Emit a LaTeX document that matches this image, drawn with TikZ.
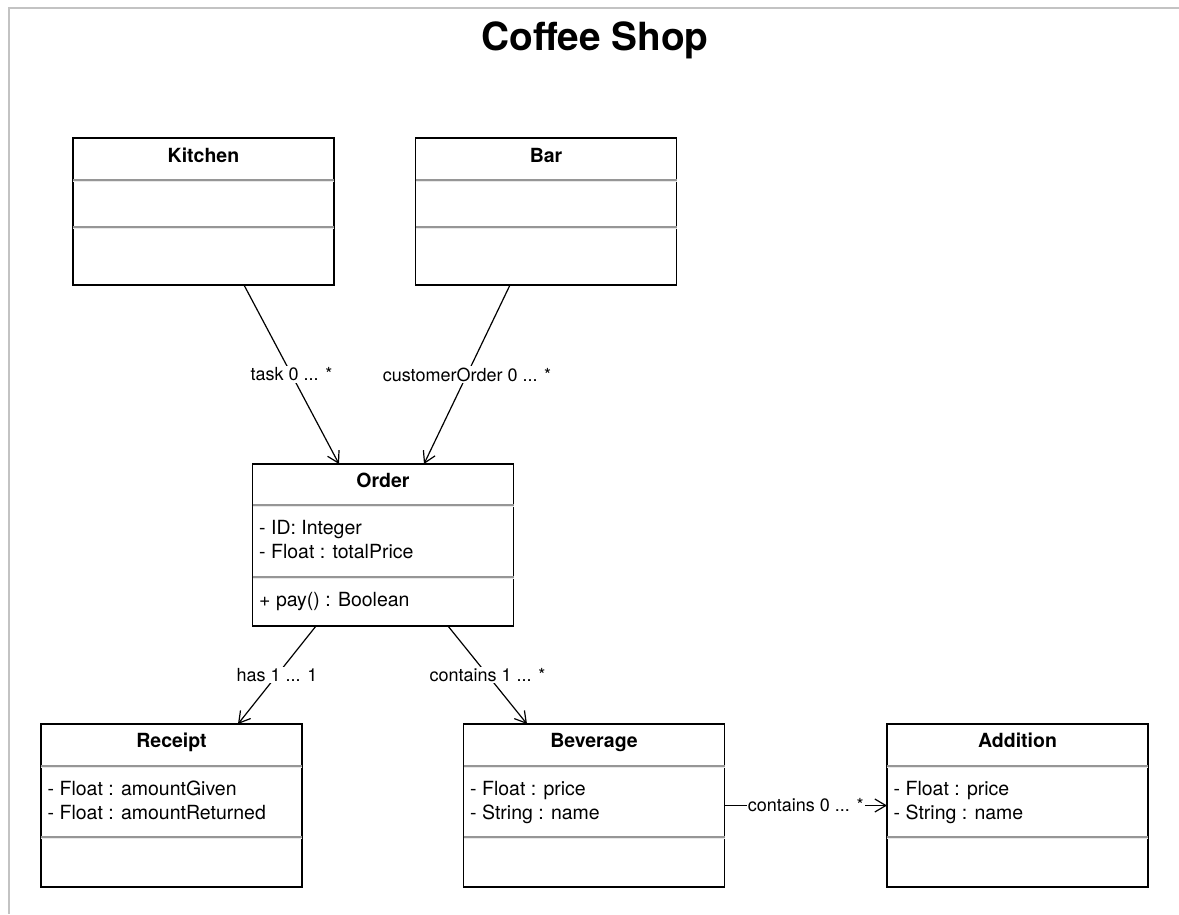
\documentclass[tikz,border=0pt]{standalone}
\usepackage{fontspec}
\setmainfont{TeX Gyre Heros}
\usetikzlibrary{arrows.meta}

\begin{document}
\begin{tikzpicture}[x=1pt,y=-1pt,
  classbox/.style={draw=black, line width=1.6pt, fill=white, minimum width=261pt,
                   inner sep=0pt, outer sep=0pt},
  classname/.style={font=\fontsize{19.5}{23}\selectfont\bfseries, anchor=base, inner sep=0pt},
  attr/.style={font=\fontsize{19.5}{23}\selectfont, anchor=base west, inner sep=0pt},
  sepdark/.style={draw={rgb,255:red,150;green,150;blue,150}, line width=1.4pt},
  seplight/.style={draw={rgb,255:red,232;green,232;blue,232}, line width=1.2pt},
  assoc/.style={line width=1.2pt, -{Straight Barb[length=11pt,width=13pt,line width=1.2pt]}},
  lbl/.style={font=\fontsize{18}{21}\selectfont, fill=white, inner sep=1.5pt},
  frameline/.style={draw={rgb,255:red,195;green,195;blue,195}, line width=2pt}
]
\fill[white] (0,0) rectangle (1179,914);
\useasboundingbox (0,0) rectangle (1179,914);

% diagram frame (top and left edges)
\draw[frameline] (1179,8) -- (9,8) -- (9,914);

% title
\node[font=\fontsize{38.8}{46}\selectfont\bfseries, anchor=base, inner sep=0pt] (title) at (595,50) {Coffee Shop};

% ---------- Kitchen ----------
\node[classbox, minimum height=147pt] (kitchen) at (203.5,211.5) {};
\node[classname] (kitchenN) at ([yshift=-24pt]kitchen.north) {Kitchen};
\draw[sepdark] ([yshift=-42pt]kitchen.north west) -- ([yshift=-42pt]kitchen.north east);
\draw[seplight] ([yshift=-43.5pt]kitchen.north west) -- ([yshift=-43.5pt]kitchen.north east);
\draw[sepdark] ([yshift=-89pt]kitchen.north west) -- ([yshift=-89pt]kitchen.north east);
\draw[seplight] ([yshift=-90.5pt]kitchen.north west) -- ([yshift=-90.5pt]kitchen.north east);

% ---------- Bar ----------
\node[classbox, minimum height=147pt] (bar) at (546,211.5) {};
\node[classname] (barN) at ([yshift=-24pt]bar.north) {Bar};
\draw[sepdark] ([yshift=-42pt]bar.north west) -- ([yshift=-42pt]bar.north east);
\draw[seplight] ([yshift=-43.5pt]bar.north west) -- ([yshift=-43.5pt]bar.north east);
\draw[sepdark] ([yshift=-89pt]bar.north west) -- ([yshift=-89pt]bar.north east);
\draw[seplight] ([yshift=-90.5pt]bar.north west) -- ([yshift=-90.5pt]bar.north east);

% ---------- Order ----------
\node[classbox, minimum height=162pt] (order) at (383,545) {};
\node[classname] (orderN) at ([yshift=-23pt]order.north) {Order};
\draw[sepdark] ([yshift=-41pt]order.north west) -- ([yshift=-41pt]order.north east);
\draw[seplight] ([yshift=-42.5pt]order.north west) -- ([yshift=-42.5pt]order.north east);
\node[attr] (orderA1) at ([xshift=6.5pt,yshift=-70pt]order.north west) {- ID: Integer};
\node[attr] (orderA2) at ([xshift=6.5pt,yshift=-94pt]order.north west) {- Float : totalPrice};
\draw[sepdark] ([yshift=-113pt]order.north west) -- ([yshift=-113pt]order.north east);
\draw[seplight] ([yshift=-114.5pt]order.north west) -- ([yshift=-114.5pt]order.north east);
\node[attr] (orderM1) at ([xshift=6.5pt,yshift=-142pt]order.north west) {+ pay() : Boolean};

% ---------- Receipt ----------
\node[classbox, minimum height=163pt] (receipt) at (171.5,805.5) {};
\node[classname] (receiptN) at ([yshift=-23.5pt]receipt.north) {Receipt};
\draw[sepdark] ([yshift=-42pt]receipt.north west) -- ([yshift=-42pt]receipt.north east);
\draw[seplight] ([yshift=-43.5pt]receipt.north west) -- ([yshift=-43.5pt]receipt.north east);
\node[attr] (receiptA1) at ([xshift=6.5pt,yshift=-71pt]receipt.north west) {- Float : amountGiven};
\node[attr] (receiptA2) at ([xshift=6.5pt,yshift=-95pt]receipt.north west) {- Float : amountReturned};
\draw[sepdark] ([yshift=-113pt]receipt.north west) -- ([yshift=-113pt]receipt.north east);
\draw[seplight] ([yshift=-114.5pt]receipt.north west) -- ([yshift=-114.5pt]receipt.north east);

% ---------- Beverage ----------
\node[classbox, minimum height=163pt] (beverage) at (594,805.5) {};
\node[classname] (beverageN) at ([yshift=-23.5pt]beverage.north) {Beverage};
\draw[sepdark] ([yshift=-42pt]beverage.north west) -- ([yshift=-42pt]beverage.north east);
\draw[seplight] ([yshift=-43.5pt]beverage.north west) -- ([yshift=-43.5pt]beverage.north east);
\node[attr] (beverageA1) at ([xshift=6.5pt,yshift=-71pt]beverage.north west) {- Float : price};
\node[attr] (beverageA2) at ([xshift=6.5pt,yshift=-95pt]beverage.north west) {- String : name};
\draw[sepdark] ([yshift=-113pt]beverage.north west) -- ([yshift=-113pt]beverage.north east);
\draw[seplight] ([yshift=-114.5pt]beverage.north west) -- ([yshift=-114.5pt]beverage.north east);

% ---------- Addition ----------
\node[classbox, minimum height=163pt] (addition) at (1017.5,805.5) {};
\node[classname] (additionN) at ([yshift=-23.5pt]addition.north) {Addition};
\draw[sepdark] ([yshift=-42pt]addition.north west) -- ([yshift=-42pt]addition.north east);
\draw[seplight] ([yshift=-43.5pt]addition.north west) -- ([yshift=-43.5pt]addition.north east);
\node[attr] (additionA1) at ([xshift=6.5pt,yshift=-71pt]addition.north west) {- Float : price};
\node[attr] (additionA2) at ([xshift=6.5pt,yshift=-95pt]addition.north west) {- String : name};
\draw[sepdark] ([yshift=-113pt]addition.north west) -- ([yshift=-113pt]addition.north east);
\draw[seplight] ([yshift=-114.5pt]addition.north west) -- ([yshift=-114.5pt]addition.north east);

% ---------- associations ----------
\draw[assoc] ([xshift=40.5pt]kitchen.south) -- node[lbl] (lTask) {task 0 ... *} ([xshift=-44pt]order.north);
\draw[assoc] ([xshift=-36pt]bar.south) -- node[lbl] (lCust) {customerOrder 0 ... *} ([xshift=41pt]order.north);
\draw[assoc] ([xshift=-67pt]order.south) -- node[lbl] (lHas) {has 1 ... 1} ([xshift=66.5pt]receipt.north);
\draw[assoc] ([xshift=65pt]order.south) -- node[lbl] (lCont) {contains 1 ... *} ([xshift=-67pt]beverage.north);
\draw[assoc] (beverage.east) -- node[lbl, inner sep=1pt] (lCont2) {contains 0 ... *} (addition.west);

\end{tikzpicture}
\end{document}
